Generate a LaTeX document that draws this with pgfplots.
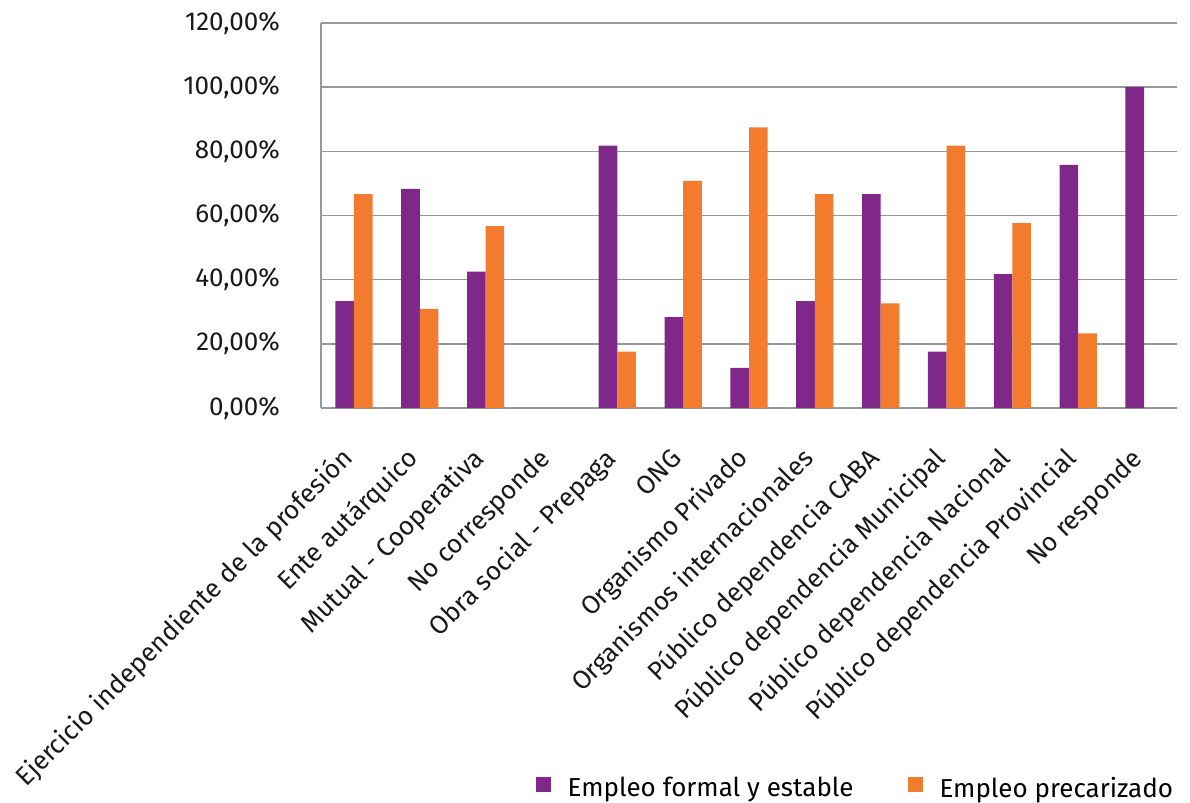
\documentclass[border=0pt]{standalone}
\usepackage{pgfplots}
\pgfplotsset{compat=1.18}
\usepackage{fontspec}
\setmainfont{Fira Sans}
\definecolor{cpurple}{RGB}{127,40,138}
\definecolor{corange}{RGB}{243,123,45}
\definecolor{cgrid}{RGB}{150,152,156}
\begin{document}
\begin{tikzpicture}
\useasboundingbox (-321bp,-395bp) rectangle (869bp,408bp);
\begin{axis}[
  scale only axis,
  width=856bp, height=385bp,
  ybar=0pt, bar width=18.6bp,
  xmin=-0.5, xmax=12.5,
  ymin=0, ymax=120,
  xtick={0,1,2,3,4,5,6,7,8,9,10,11,12},
  xticklabels={Ejercicio independiente de la profesión, Ente autárquico, Mutual - Cooperativa, No corresponde, Obra social - Prepaga, ONG, Organismo Privado, Organismos internacionales, Público dependencia CABA, Público dependencia Municipal, Público dependencia Nacional, Público dependencia Provincial, No responde},
  ytick={0,20,40,60,80,100,120},
  yticklabels={{0,00\%},{20,00\%},{40,00\%},{60,00\%},{80,00\%},{100,00\%},{120,00\%}},
  axis x line*=bottom, axis y line*=left,
  axis line style={cgrid, line width=1.5bp},
  ymajorgrids, grid style={cgrid, line width=1.5bp},
  major tick length=0pt,
  x tick style={draw=none}, y tick style={draw=none},
  tick label style={font=\fontsize{26bp}{30bp}\selectfont, text=black!90},
  xticklabel style={yshift=-52bp, rotate=45, anchor=base east, inner sep=0pt},
  yticklabel style={anchor=east, xshift=-41bp, inner sep=0pt},
  legend columns=2,
  legend style={at={(0.998,-1.02)}, anchor=south east, draw=none, fill=none,
    font=\fontsize{26bp}{30bp}\selectfont, inner sep=0pt,
    /tikz/every odd column/.append style={column sep=15bp},
    /tikz/every even column/.append style={column sep=52bp}},
  legend image code/.code={\fill[#1] (0bp,-4bp) rectangle (15bp,11bp);},
]
\addplot[fill=cpurple, draw=none] coordinates {
(0,33.33) (1,68.3) (2,42.5) (4,81.8) (5,28.3) (6,12.5) (7,33.33) (8,66.7) (9,17.6) (10,41.7) (11,75.8) (12,100)};
\addplot[fill=corange, draw=none] coordinates {
(0,66.67) (1,30.9) (2,56.7) (4,17.6) (5,70.8) (6,87.5) (7,66.67) (8,32.6) (9,81.8) (10,57.6) (11,23.3)};
\legend{Empleo formal y estable, Empleo precarizado}
\end{axis}
\end{tikzpicture}
\end{document}
